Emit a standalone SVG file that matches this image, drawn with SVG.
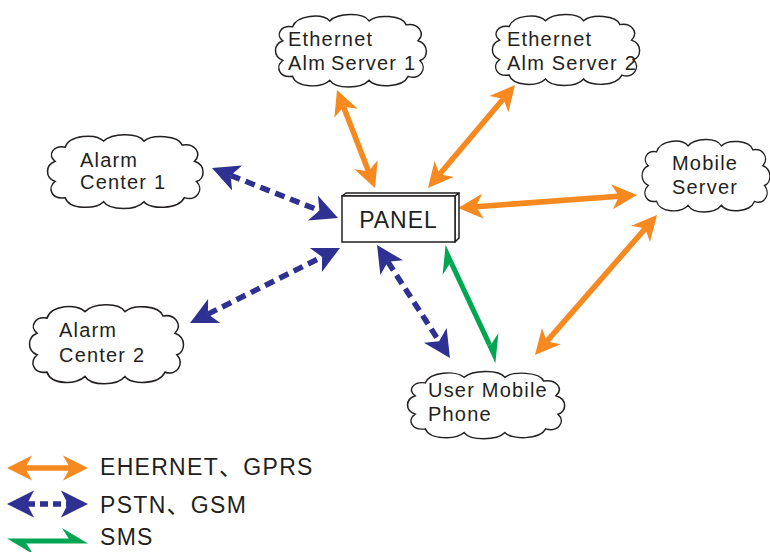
<svg xmlns="http://www.w3.org/2000/svg" xmlns:xlink="http://www.w3.org/1999/xlink" width="770" height="552" viewBox="0 0 770 552">
<style>
.cl{fill:#fff;stroke:#231f20;stroke-width:1.5;vector-effect:non-scaling-stroke}
.t{font-family:"Liberation Sans",Arial,sans-serif;font-size:20px;letter-spacing:1.2px;fill:#231f20}
.lg{font-family:"Liberation Sans","Noto Sans CJK SC",Arial,sans-serif;font-size:23px;letter-spacing:1.3px;fill:#231f20}
.or{stroke:#f6891f;stroke-width:5.5;fill:none;marker-start:url(#ho);marker-end:url(#ho)}
.bl{stroke:#2e3192;stroke-width:5.5;fill:none;stroke-dasharray:10 6;marker-start:url(#hb);marker-end:url(#hb)}
.gr{stroke:#00a651;stroke-width:5;fill:none;marker-start:url(#hg);marker-end:url(#hg)}
</style>
<defs>
<path id="cloud" d="M20,14 C24,2 50,0 58,8 C66,0 92,-1 98,8 C106,1 132,2 136,12 C148,10 156,20 148,28 C160,32 158,46 150,48 C158,56 150,68 138,64 C132,76 104,76 98,68 C90,77 64,77 58,68 C50,76 24,76 20,64 C6,66 2,54 10,48 C0,44 0,32 10,28 C2,22 8,12 20,14 Z"/>
<marker id="ho" markerUnits="userSpaceOnUse" viewBox="-10 -14 32 28" markerWidth="32" markerHeight="28" refX="0" refY="0" orient="auto-start-reverse"><path d="M18,0 L-7,-12.5 L0,0 L-7,12.5 Z" fill="#f6891f"/></marker>
<marker id="hb" markerUnits="userSpaceOnUse" viewBox="-10 -15 34 30" markerWidth="34" markerHeight="30" refX="0" refY="0" orient="auto-start-reverse"><path d="M20,0 L-7,-13.5 L0,0 L-7,13.5 Z" fill="#2e3192"/></marker>
<marker id="hg" markerUnits="userSpaceOnUse" viewBox="-10 -15 34 30" markerWidth="34" markerHeight="30" refX="0" refY="0" orient="auto-start-reverse"><path d="M19,2.5 L-7,-13 L0,-2 L0,2.5 Z" fill="#00a651"/></marker>
</defs>

<g id="connectors">
<line class="or" x1="343.5" y1="106.8" x2="368.5" y2="171.2"/>
<line class="or" x1="503.4" y1="98.8" x2="439.6" y2="174.3"/>
<line class="or" x1="476" y1="206.7" x2="619" y2="196.3"/>
<line class="or" x1="645.2" y1="228.6" x2="546.8" y2="341.4"/>
<line class="bl" x1="230.6" y1="175.4" x2="319.4" y2="210.6"/>
<line class="bl" x1="207.9" y1="314.1" x2="322.1" y2="256.9"/>
<line class="bl" x1="387.9" y1="261.8" x2="439.1" y2="341.2"/>
<line class="gr" x1="451.4" y1="263.1" x2="489.6" y2="344.9"/>
</g>

<g id="server1">
<use xlink:href="#cloud" class="cl" transform="translate(273,13) scale(0.98,0.99)"/>
<text class="t" x="288" y="46">Ethernet</text>
<text class="t" x="288" y="70">Alm<tspan dx="5">Server 1</tspan></text>
</g>
<g id="server2">
<use xlink:href="#cloud" class="cl" transform="translate(490,13) scale(0.956,0.97)"/>
<text class="t" x="507" y="46">Ethernet</text>
<text class="t" x="507" y="70">Alm Server 2</text>
</g>
<g id="alarm1">
<use xlink:href="#cloud" class="cl" transform="translate(45,133) scale(1.01,1.01)"/>
<text class="t" x="80" y="167">Alarm</text>
<text class="t" x="80" y="189">Center 1</text>
</g>
<g id="mobileserver">
<use xlink:href="#cloud" class="cl" transform="translate(640,138) scale(0.83,0.99)"/>
<text class="t" x="672" y="170">Mobile</text>
<text class="t" x="672" y="194">Server</text>
</g>
<g id="alarm2">
<use xlink:href="#cloud" class="cl" transform="translate(27,303) scale(1,1.08)"/>
<text class="t" x="59" y="337">Alarm</text>
<text class="t" x="59" y="362">Center 2</text>
</g>
<g id="phone">
<use xlink:href="#cloud" class="cl" transform="translate(405,370) scale(1.02,0.92)"/>
<text class="t" x="428" y="397">User Mobile</text>
<text class="t" x="428" y="421">Phone</text>
</g>
<g id="panel">
<path d="M342,196 L346,193 L459,193 L455,196 Z" fill="#fff" stroke="#231f20" stroke-width="1.5" stroke-linejoin="round"/>
<path d="M455,196 L459,193 L459,238 L455,242 Z" fill="#fff" stroke="#231f20" stroke-width="1.5" stroke-linejoin="round"/>
<rect x="342" y="196" width="113" height="46" fill="#fff" stroke="#231f20" stroke-width="1.5"/>
<text class="t" x="398.5" y="228" text-anchor="middle" style="font-size:23px;letter-spacing:1px">PANEL</text>
</g>

<g id="legend">
<line class="or" x1="25" y1="468" x2="70" y2="468"/>
<text class="lg" x="100" y="475">EHERNET、GPRS</text>
<line class="bl" x1="27" y1="504" x2="68" y2="504" style="stroke-dasharray:8 5"/>
<text class="lg" x="100" y="513">PSTN、GSM</text>
<line class="gr" x1="26" y1="541" x2="69" y2="541"/>
<text class="lg" x="100" y="545">SMS</text>
</g>
</svg>
